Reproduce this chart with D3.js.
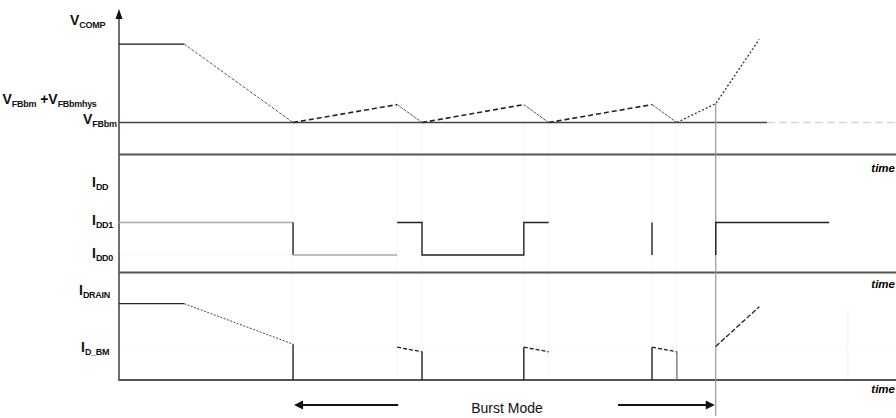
<!DOCTYPE html>
<html><head><meta charset="utf-8">
<script src="https://cdn.jsdelivr.net/npm/d3@7"></script>
<style>
html,body{margin:0;padding:0;background:#fff;}
svg{display:block;}
text{font-family:"Liberation Sans",Arial,sans-serif;}
</style></head>
<body>
<svg id="chart" width="896" height="418"></svg>
<script>
// ---- data (time in arbitrary units 0..100) ----
const tFlatEnd = 8.4;           // end of normal operation plateau
const valleyTimes = [22.4, 39.0, 55.3, 71.8];   // VCOMP reaches VFBbm -> switching stops
const peakTimes   = [35.8, 52.1, 68.6];         // VCOMP reaches VFBbm+hys -> switching starts
const tExit = 76.8;             // leaving burst mode
const tExitEnd = 82.4;
const tVfbSolidEnd = 83.4;
const tIddEnd = 91.4;
const tFaint = 93.8;

// VCOMP levels
const vcompHigh = 3.45, vfbbm = 1.0, vfbbmHys = 1.56, vExit = 1.59, vcompEnd = 3.6;
// IDD levels
const idd0 = 1, idd1 = 2;
// IDRAIN levels
const idrainHigh = 1.0, idrainEndRamp = 0.47, idBM = 0.43, idBMend = 0.37, idExitEnd = 0.96;

const timeLabel = "time";
const burstLabel = "Burst Mode";

// ---- scales ----
const svg = d3.select("#chart");
const x = d3.scaleLinear().domain([0,100]).range([119,896]);
const yV = d3.scaleLinear().domain([0,4]).range([154.5,26.5]);
const yI = d3.scaleLinear().domain([idd0,idd1]).range([255,222.5]);
const yD = d3.scaleLinear().domain([0,1]).range([380,303.7]);
const sepIdd = 272.5;

const line = (ys) => d3.line().x(d=>x(d[0])).y(d=>ys(d[1]));
function path(pts, ys, opts){
  const p = svg.append("path").attr("d", line(ys)(pts)).attr("fill","none")
    .attr("stroke", opts.color||"#222").attr("stroke-width", opts.w||1.2);
  if (opts.dash) p.attr("stroke-dasharray", opts.dash);
  return p;
}

// faint guide lines
[...valleyTimes, ...peakTimes].forEach(t=>{
  svg.append("line").attr("x1",x(t)).attr("x2",x(t)).attr("y1",yV(vfbbm)).attr("y2",yD(0))
    .attr("stroke","#f6f6f6").attr("stroke-width",1);
});
svg.append("line").attr("x1",x(tFaint)).attr("x2",x(tFaint)).attr("y1",yD(0.93)).attr("y2",yD(0))
  .attr("stroke","#f0f0f0").attr("stroke-width",1);
path([[0,idBM],[100,idBM]], yD, {color:"#f2f2f2", w:1, dash:"2,2"});
path([[0,idd0],[valleyTimes[0],idd0]], yI, {color:"#eeeeee", w:1, dash:"2,2"});

// ---- axis & separators ----
svg.append("line").attr("x1",x(0)).attr("x2",x(0)).attr("y1",16).attr("y2",yD(0)+1)
  .attr("stroke","#222").attr("stroke-width",1.3);
svg.append("path").attr("d",`M${x(0)-3.5},19 L${x(0)},9 L${x(0)+3.5},19 Z`).attr("fill","#111");
[yV(0), sepIdd, yD(0)].forEach(yy=>{
  svg.append("line").attr("x1",x(0)).attr("x2",x(100)).attr("y1",yy).attr("y2",yy)
    .attr("stroke","#555").attr("stroke-width",2.2);
});

// ---- VCOMP panel ----
path([[0,vfbbm],[tVfbSolidEnd,vfbbm]], yV, {color:"#444", w:1.6});
path([[tVfbSolidEnd,vfbbm],[100,vfbbm]], yV, {color:"#d8d8d8", w:1.6, dash:"8,4"});
path([[0,vcompHigh],[tFlatEnd,vcompHigh]], yV, {color:"#111", w:1.4});
path([[tFlatEnd,vcompHigh],[valleyTimes[0],vfbbm]], yV, {color:"#555", w:1, dash:"3,1.5"});
peakTimes.forEach((tp,i)=>{
  path([[valleyTimes[i],vfbbm],[tp,vfbbmHys]], yV, {color:"#222", w:1.6, dash:"5,3"});
  path([[tp,vfbbmHys],[valleyTimes[i+1],vfbbm]], yV, {color:"#555", w:1, dash:"3,1"});
});
path([[valleyTimes[3],vfbbm],[tExit,vExit],[tExitEnd,vcompEnd]], yV, {color:"#333", w:1.3, dash:"2,2"});

// exit marker
svg.append("line").attr("x1",x(tExit)).attr("x2",x(tExit)).attr("y1",yV(vExit)).attr("y2",416)
  .attr("stroke","#999").attr("stroke-width",1.2);

// ---- IDD panel ----
path([[0,idd1],[valleyTimes[0],idd1]], yI, {color:"#aaa", w:1.4});
path([[valleyTimes[0],idd1],[valleyTimes[0],idd0]], yI, {color:"#222", w:1.4});
path([[valleyTimes[0],idd0],[peakTimes[0],idd0]], yI, {color:"#aaa", w:1.4});
path([[peakTimes[0],idd1],[valleyTimes[1],idd1],[valleyTimes[1],idd0],[peakTimes[1],idd0],[peakTimes[1],idd1],[valleyTimes[2],idd1]], yI, {color:"#222", w:1.4});
path([[peakTimes[2],idd1],[peakTimes[2],idd0]], yI, {color:"#222", w:1.4});
path([[tExit,idd0],[tExit,idd1],[tIddEnd,idd1]], yI, {color:"#222", w:1.4});

// ---- IDRAIN panel ----
path([[0,idrainHigh],[tFlatEnd,idrainHigh]], yD, {color:"#222", w:1.3});
path([[tFlatEnd,idrainHigh],[valleyTimes[0],idrainEndRamp]], yD, {color:"#444", w:1, dash:"2,1.5"});
path([[valleyTimes[0],idrainEndRamp],[valleyTimes[0],0]], yD, {color:"#222", w:1.4});
path([[peakTimes[0],idBM],[valleyTimes[1],idBMend]], yD, {color:"#222", w:1.3, dash:"4,2"});
path([[valleyTimes[1],idBMend],[valleyTimes[1],0]], yD, {color:"#222", w:1.4});
path([[peakTimes[1],0],[peakTimes[1],idBM]], yD, {color:"#222", w:1.4});
path([[peakTimes[1],idBM],[valleyTimes[2],idBMend]], yD, {color:"#222", w:1.3, dash:"4,2"});
path([[peakTimes[2],0],[peakTimes[2],idBM]], yD, {color:"#222", w:1.4});
path([[peakTimes[2],idBM],[valleyTimes[3],idBMend]], yD, {color:"#222", w:1.3, dash:"4,2"});
path([[valleyTimes[3],idBMend],[valleyTimes[3],0]], yD, {color:"#666", w:1.2});
path([[tExit,idBM+0.01],[tExitEnd,idExitEnd]], yD, {color:"#222", w:1.3, dash:"5,2"});

// ---- labels ----
function label(xp, yBase, main, sub, subs2){
  const t = svg.append("text").attr("x",xp).attr("y",yBase)
    .attr("font-weight","bold").attr("font-size",14).attr("fill","#111");
  t.append("tspan").text(main);
  t.append("tspan").attr("font-size",9).attr("dy",3).attr("letter-spacing",-0.3).text(sub);
  if (subs2){
    t.append("tspan").attr("font-size",14).attr("dy",-3).attr("dx",4).attr("letter-spacing",0).text(subs2[0]);
    t.append("tspan").attr("font-size",9).attr("dy",3).attr("letter-spacing",-0.3).text(subs2[1]);
  }
  return t;
}
label(70, 25, "V", "COMP");
label(2.5, 104, "V", "FBbm", ["+V","FBbmhys"]);
label(83, 123.5, "V", "FBbm");
label(92, 187, "I", "DD");
label(92, 225, "I", "DD1");
label(92, 257.5, "I", "DD0");
label(79, 295, "I", "DRAIN");
label(81, 352, "I", "D_BM");

[172, 288, 393].forEach(yb=>{
  svg.append("text").attr("x",895).attr("y",yb).attr("text-anchor","end")
    .attr("font-weight","bold").attr("font-style","italic").attr("font-size",11.5)
    .attr("fill","#000").text(timeLabel);
});

// ---- Burst mode arrows ----
const arrowY = 405;
svg.append("line").attr("x1",x(valleyTimes[0])+6).attr("x2",x(peakTimes[0])+1).attr("y1",arrowY).attr("y2",arrowY)
  .attr("stroke","#111").attr("stroke-width",2);
svg.append("path").attr("d",`M${x(valleyTimes[0])+1},${arrowY} l9,-4.5 l0,9 Z`).attr("fill","#111");
svg.append("line").attr("x1",618).attr("x2",x(tExit)-6).attr("y1",arrowY).attr("y2",arrowY)
  .attr("stroke","#111").attr("stroke-width",2);
svg.append("path").attr("d",`M${x(tExit)-1},${arrowY} l-9,-4.5 l0,9 Z`).attr("fill","#111");
svg.append("text").attr("x",507).attr("y",413).attr("text-anchor","middle")
  .attr("font-size",14).attr("fill","#111").text(burstLabel);
</script>
</body></html>
